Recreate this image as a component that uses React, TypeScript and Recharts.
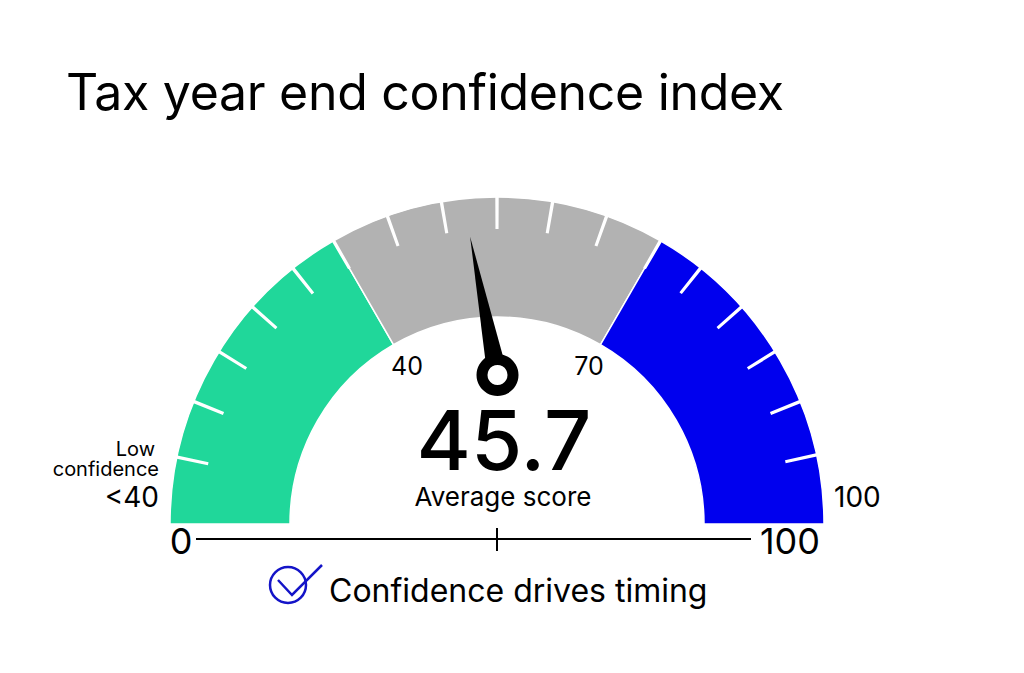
import { PieChart, Pie, Cell } from "recharts";

// gauge bands, each takes a third of the dial in the original
const bandNames = ["Low", "Middle", "High"];
const bandSweeps = [60, 60, 60];
const bandColors = ["#20D79A", "#B2B2B2", "#0000EE"];

// dial tick marks, degrees (180 = left, 0 = right)
const tickAngles = [168.2, 158, 148.2, 138.4, 128.6, 120, 109.6, 99.8, 90, 80.2, 70.4, 60, 51.5, 41.6, 31.8, 22, 12.2];
const TICK_SWEEP = 0.6;

// needle position on the dial, degrees
const needleAngle = 101.2;
const scoreLabel = "45.7";

const bandData = bandNames.map((name, i) => ({ name, value: bandSweeps[i] }));

const tickData: { value: number; tick: boolean }[] = [];
let last = 180;
tickAngles.forEach((a) => {
  tickData.push({ value: last - a - TICK_SWEEP / 2, tick: false });
  tickData.push({ value: TICK_SWEEP, tick: true });
  last = a - TICK_SWEEP / 2;
});
tickData.push({ value: last, tick: false });

const needleData = [
  { value: 180 - needleAngle, tick: true },
  { value: needleAngle, tick: false },
];

const FONT = "Inter, sans-serif";

function NeedleShape(props: any) {
  const { cx, cy, endAngle, outerRadius, tick } = props;
  if (!tick) return <g />;
  const rad = (endAngle * Math.PI) / 180;
  const ux = Math.cos(rad);
  const uy = -Math.sin(rad);
  const base = 17;
  const half = 9;
  const pts = [
    [cx + ux * outerRadius, cy + uy * outerRadius],
    [cx + ux * base - uy * half, cy + uy * base + ux * half],
    [cx + ux * base + uy * half, cy + uy * base - ux * half],
  ];
  return <polygon points={pts.map((p) => p.join(",")).join(" ")} fill="#000" />;
}

export default function App() {
  return (
    <div style={{ position: "absolute", left: 0, top: 0, width: 1024, height: 673, background: "#fff" }}>
      <PieChart width={1024} height={673} margin={{ top: 0, right: 0, bottom: 0, left: 0 }}>
        <Pie
          data={bandData}
          dataKey="value"
          cx={497}
          cy={524}
          innerRadius={207}
          outerRadius={327}
          startAngle={180}
          endAngle={0}
          stroke="#fff"
          strokeWidth={1.5}
          isAnimationActive={false}
        >
          {bandData.map((d, i) => (
            <Cell key={d.name} fill={bandColors[i]} />
          ))}
        </Pie>
        <Pie
          data={tickData}
          dataKey="value"
          cx={497}
          cy={524}
          innerRadius={295}
          outerRadius={328}
          startAngle={180}
          endAngle={0}
          stroke="none"
          isAnimationActive={false}
        >
          {tickData.map((d, i) => (
            <Cell key={i} fill={d.tick ? "#fff" : "transparent"} />
          ))}
        </Pie>
        {/* dial is cut flat along the bottom */}
        <rect x={150} y={507} width={700} height={20} fill="#fff" />
        <Pie
          data={needleData}
          dataKey="value"
          cx={497.5}
          cy={375}
          innerRadius={0}
          outerRadius={141}
          startAngle={180}
          endAngle={0}
          stroke="none"
          shape={NeedleShape}
          isAnimationActive={false}
        />
        <Pie
          data={[{ value: 1 }]}
          dataKey="value"
          cx={497.5}
          cy={375}
          innerRadius={10}
          outerRadius={21}
          startAngle={0}
          endAngle={360}
          fill="#000"
          stroke="none"
          isAnimationActive={false}
        />

        <g fontFamily={FONT} fill="#000">
          <text x={66} y={110} fontSize={50} letterSpacing={-0.3}>Tax year end confidence index</text>
          <text x={155} y={456} fontSize={20} textAnchor="end">Low</text>
          <text x={159} y={476} fontSize={20} textAnchor="end">confidence</text>
          <text x={159} y={507} fontSize={28} textAnchor="end">&lt;40</text>
          <text x={834} y={507} fontSize={28}>100</text>
          <text x={407} y={375} fontSize={25} textAnchor="middle">40</text>
          <text x={589} y={375} fontSize={25} textAnchor="middle">70</text>
          <text x={504} y={470} fontSize={83} fontWeight={500} textAnchor="middle">{scoreLabel}</text>
          <text x={503} y={506} fontSize={26} textAnchor="middle">Average score</text>
          <text x={181} y={554} fontSize={36} textAnchor="middle">0</text>
          <text x={790} y={554} fontSize={36} textAnchor="middle">100</text>
          <text x={329} y={602} fontSize={32}>Confidence drives timing</text>
        </g>

        <line x1={196} y1={539} x2={751} y2={539} stroke="#000" strokeWidth={2} />
        <line x1={497} y1={528} x2={497} y2={551} stroke="#000" strokeWidth={2} />

        <circle cx={288} cy={585} r={18} fill="none" stroke="#1414C8" strokeWidth={2.5} />
        <polyline points="278,580 292,595 322,565" fill="none" stroke="#1414C8" strokeWidth={2.5} />
      </PieChart>
    </div>
  );
}
